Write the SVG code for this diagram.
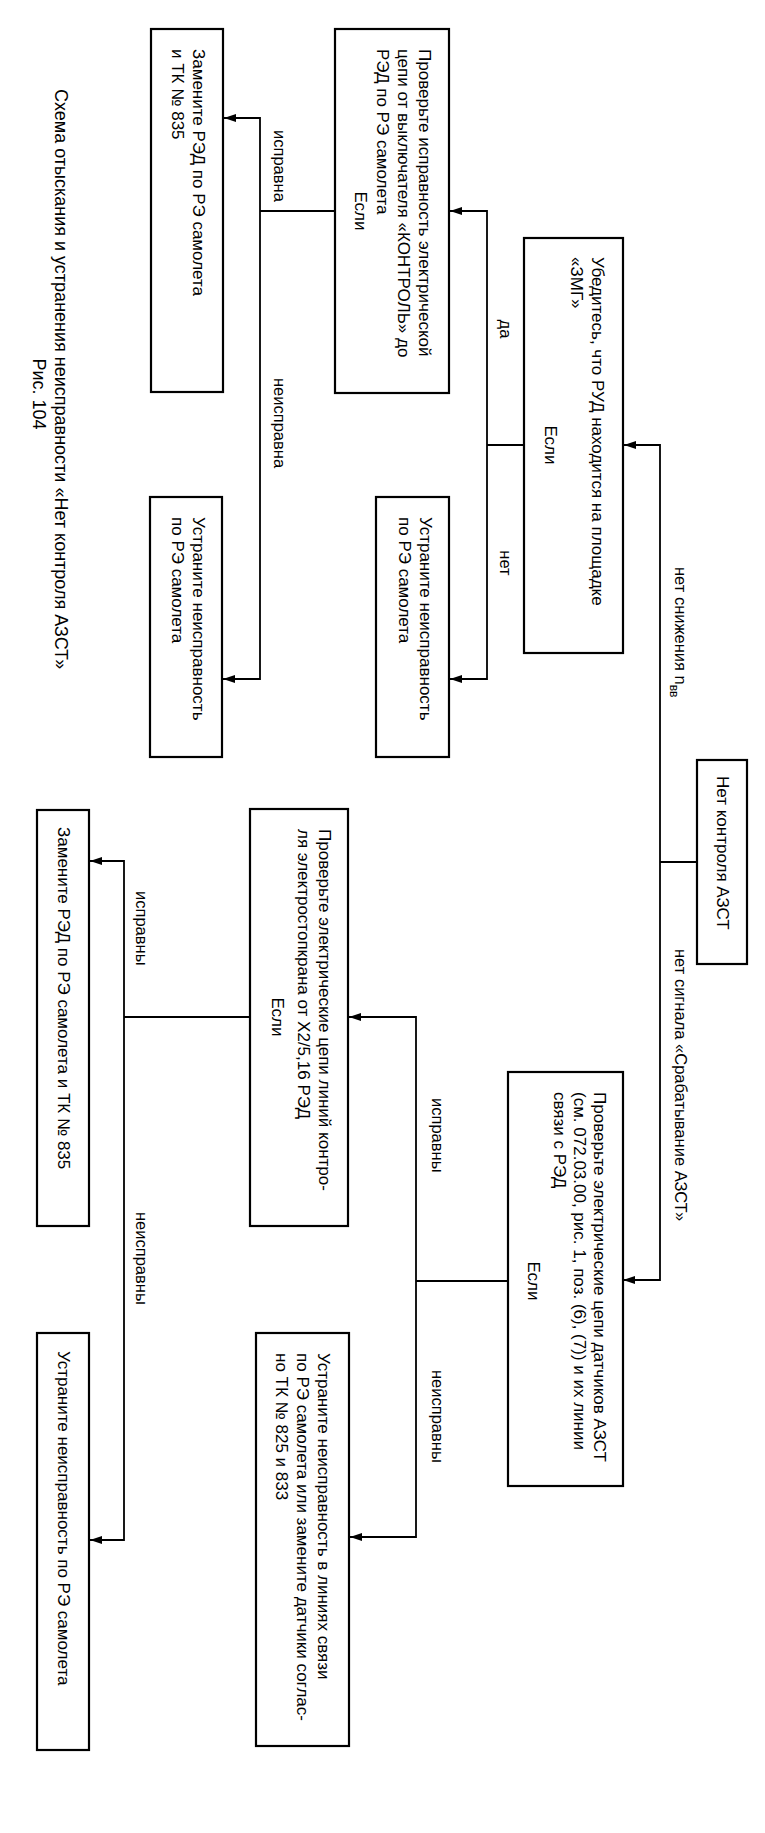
<svg xmlns="http://www.w3.org/2000/svg" width="765" height="1833" viewBox="0 0 765 1833">
<style>
rect.box{fill:#fff;stroke:#000;stroke-width:2.2}
text{font-family:"Liberation Sans",Arial,sans-serif;font-size:17px;fill:#000;dominant-baseline:central}
.lbl{font-size:16.5px}
.cap{font-size:18px}
.mid{text-anchor:middle}
#connectors path{fill:none;stroke:#000;stroke-width:1.8}
</style>
<defs>
<marker id="arr" markerWidth="14" markerHeight="9" refX="12" refY="4.5" orient="auto" markerUnits="userSpaceOnUse">
<path d="M0,0.5 L12,4.5 L0,8.5 Z" fill="#000"/>
</marker>
</defs>
<rect width="765" height="1833" fill="#fff"/>

<g id="connectors">
<path d="M697,862 H660"/>
<path d="M660,862 V445 H624" marker-end="url(#arr)"/>
<path d="M660,862 V1280 H623" marker-end="url(#arr)"/>
<path d="M525,445 H487"/>
<path d="M487,445 V211 H450" marker-end="url(#arr)"/>
<path d="M487,445 V679 H450" marker-end="url(#arr)"/>
<path d="M335,211 H260"/>
<path d="M260,211 V118 H224" marker-end="url(#arr)"/>
<path d="M260,211 V679 H223" marker-end="url(#arr)"/>
<path d="M508,1281 H416"/>
<path d="M416,1281 V1017 H349" marker-end="url(#arr)"/>
<path d="M416,1281 V1537 H350" marker-end="url(#arr)"/>
<path d="M250,1017 H124"/>
<path d="M124,1017 V861 H90" marker-end="url(#arr)"/>
<path d="M124,1017 V1540 H90" marker-end="url(#arr)"/>
</g>

<g id="edge-labels">
<text class="lbl" transform="translate(681,567) rotate(90)">нет снижения n<tspan baseline-shift="sub" font-size="12">вв</tspan></text>
<text class="lbl" transform="translate(681,949) rotate(90)">нет сигнала «Срабатывание АЗСТ»</text>
<text class="lbl mid" transform="translate(506,329) rotate(90)">да</text>
<text class="lbl mid" transform="translate(506,563) rotate(90)">нет</text>
<text class="lbl" transform="translate(280,130) rotate(90)">исправна</text>
<text class="lbl" transform="translate(280,378) rotate(90)">неисправна</text>
<text class="lbl" transform="translate(142,891) rotate(90)">исправны</text>
<text class="lbl" transform="translate(142,1212) rotate(90)">неисправны</text>
<text class="lbl" transform="translate(438,1098) rotate(90)">исправны</text>
<text class="lbl" transform="translate(438,1370) rotate(90)">неисправны</text>
</g>

<g id="n-start">
<rect class="box" x="697" y="760" width="50" height="204"/>
<text transform="translate(722,776) rotate(90)">Нет контроля АЗСТ</text>
</g>

<g id="n-zmg">
<rect class="box" x="524" y="238" width="99" height="415"/>
<text transform="translate(597,257) rotate(90)">Убедитесь, что РУД находится на площадке</text>
<text transform="translate(576,257) rotate(90)">«ЗМГ»</text>
<text class="mid" transform="translate(550,445) rotate(90)">Если</text>
</g>

<g id="n-sensors">
<rect class="box" x="508" y="1072" width="115" height="414"/>
<text transform="translate(599,1092) rotate(90)">Проверьте электрические цепи датчиков АЗСТ</text>
<text transform="translate(579,1092) rotate(90)">(см. 072.03.00, рис. 1, поз. (6), (7)) и их линии</text>
<text transform="translate(559,1092) rotate(90)">связи с РЭД</text>
<text class="mid" transform="translate(533,1281) rotate(90)">Если</text>
</g>

<g id="n-check-control">
<rect class="box" x="335" y="29" width="114" height="364"/>
<text transform="translate(424,49) rotate(90)">Проверьте исправность электрической</text>
<text transform="translate(403,49) rotate(90)">цепи от выключателя «КОНТРОЛЬ» до</text>
<text transform="translate(382,49) rotate(90)">РЭД по РЭ самолета</text>
<text class="mid" transform="translate(360,211) rotate(90)">Если</text>
</g>

<g id="n-fix1">
<rect class="box" x="376" y="497" width="73" height="260"/>
<text transform="translate(425,517) rotate(90)">Устраните неисправность</text>
<text transform="translate(404,517) rotate(90)">по РЭ самолета</text>
</g>

<g id="n-replace1">
<rect class="box" x="151" y="29" width="72" height="363"/>
<text transform="translate(198,49) rotate(90)">Замените РЭД по РЭ самолета</text>
<text transform="translate(177,49) rotate(90)">и ТК № 835</text>
</g>

<g id="n-fix2">
<rect class="box" x="150" y="497" width="72" height="260"/>
<text transform="translate(198,517) rotate(90)">Устраните неисправность</text>
<text transform="translate(177,517) rotate(90)">по РЭ самолета</text>
</g>

<g id="n-check-lines">
<rect class="box" x="250" y="809" width="98" height="417"/>
<text transform="translate(324,829) rotate(90)">Проверьте электрические цепи линий контро-</text>
<text transform="translate(303,829) rotate(90)">ля электростопкрана от Х2/5,16 РЭД</text>
<text class="mid" transform="translate(277,1017) rotate(90)">Если</text>
</g>

<g id="n-fix-lines">
<rect class="box" x="256" y="1333" width="93" height="413"/>
<text transform="translate(323,1353) rotate(90)">Устраните неисправность в линиях связи</text>
<text transform="translate(302,1353) rotate(90)">по РЭ самолета или замените датчики соглас-</text>
<text transform="translate(281,1353) rotate(90)">но ТК № 825 и 833</text>
</g>

<g id="n-replace2">
<rect class="box" x="37" y="810" width="52" height="416"/>
<text transform="translate(63,827) rotate(90)">Замените РЭД по РЭ самолета и ТК № 835</text>
</g>

<g id="n-fix3">
<rect class="box" x="37" y="1333" width="52" height="417"/>
<text transform="translate(63,1351) rotate(90)">Устраните неисправность по РЭ самолета</text>
</g>

<g id="caption">
<text class="cap" transform="translate(61,89) rotate(90)">Схема отыскания и устранения неисправности «Нет контроля АЗСТ»</text>
<text class="cap mid" transform="translate(39,394) rotate(90)">Рис. 104</text>
</g>
</svg>
